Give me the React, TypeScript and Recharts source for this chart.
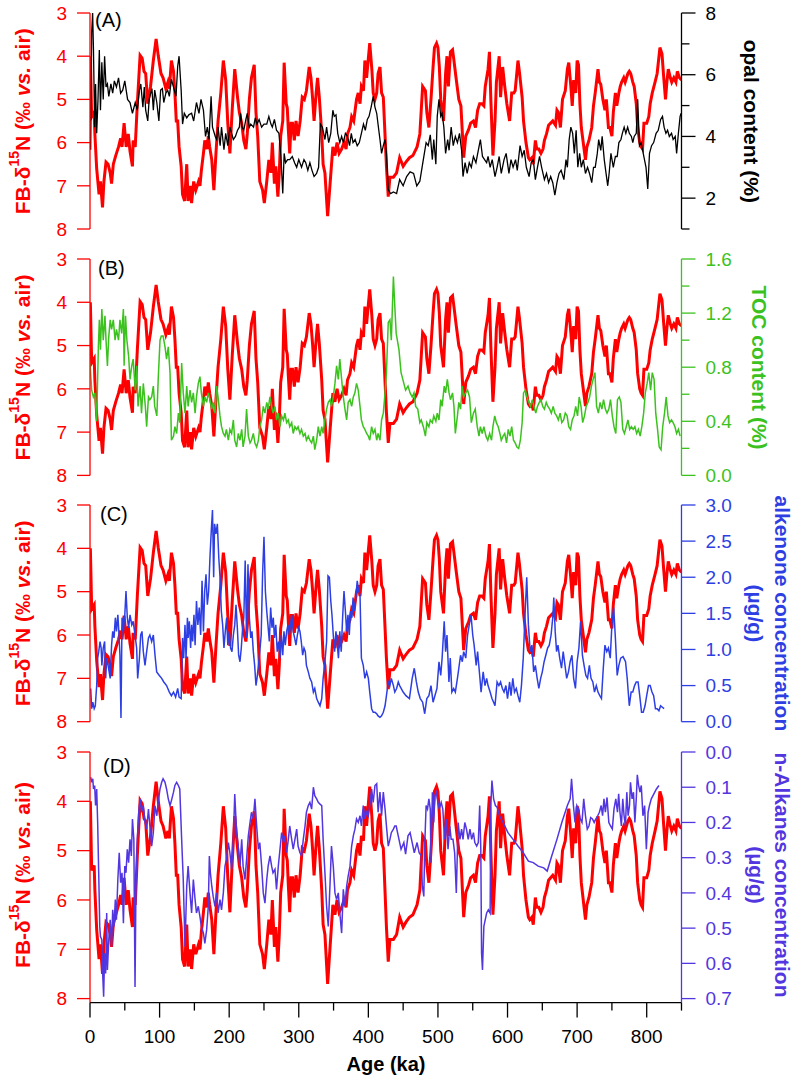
import React from "react";
import { LineChart, Line, XAxis, YAxis } from "recharts";

const FONT = '"Liberation Sans", Arial, Helvetica, sans-serif';
const RED = "#FF0000";
const BLACK = "#000000";
const GREEN = "#3CC21F";
const BLUE = "#2D3FE3";
const VIOLET = "#5236E0";

// FB-d15N (same record in every panel)
const D15N_AGE = [0.5, 2.4, 6, 7, 9.6, 13, 15, 18, 20, 23, 26, 29, 31, 33.5, 37, 41, 44, 46, 49, 52, 55, 57.5, 61, 62, 65, 68, 72, 75, 77.6, 80, 83, 87, 91, 95, 98, 102, 105, 109, 112, 114, 117, 120, 122, 124, 126, 128, 131, 133, 136, 139, 141, 144, 146, 149, 152, 156, 158, 160, 163, 165, 168, 170, 172, 175, 178, 181, 184, 188, 191.6, 195, 198, 201, 204.5, 208, 212, 214.6, 218, 221, 224, 226, 229, 232, 236, 238.5, 241, 244, 248, 250.5, 254, 257, 260, 262, 265, 267, 270, 272, 274, 277, 279, 282, 283.5, 285, 287, 289, 291, 293.6, 296, 299, 302, 305, 308, 311, 315, 317.5, 320, 322, 325, 327, 329.5, 333, 335, 337.6, 341.5, 345, 349, 352, 355, 358, 361.6, 365, 368, 370, 373.6, 376, 379, 383, 385.5, 388, 390, 393, 395, 397.5, 400, 402, 405, 407, 409.5, 412, 414, 416.7, 419, 421.5, 426, 428.6, 431, 436, 440.6, 445, 450, 454, 459, 464, 470, 474, 478, 482, 484, 487, 490, 493, 495, 498, 500, 502, 504, 508, 511, 513, 515, 518, 521, 523, 526, 530, 533, 537, 540, 544, 547, 551, 554, 557, 560, 563, 566, 568, 572, 574, 576, 579, 582, 584, 588, 590, 593, 596, 599, 603, 606, 609, 611, 615, 617, 621, 623, 626.5, 630, 632, 635, 637, 640, 642, 645, 648, 651, 653, 656, 659, 662, 665, 669, 671, 673, 676, 679, 683, 686, 688, 691, 693, 695, 698, 700, 702, 704, 706, 710, 712, 714, 717, 719, 721, 723.5, 726, 730, 732, 734, 737, 740, 742, 745, 747, 750, 752, 755, 757, 760, 762, 764, 767, 769, 770, 773, 775, 777, 780, 782, 785, 787, 790, 792, 794, 796, 800, 803, 805, 808, 812, 815, 817, 819, 822, 824, 827, 829, 831, 834, 836, 839, 842, 844, 847, 850];
const D15N = [4.0, 5.4, 5.3, 5.8, 6.6, 7.2, 6.9, 7.5, 6.9, 6.45, 6.5, 6.7, 6.95, 6.5, 6.3, 6.1, 5.9, 6.1, 5.55, 6.1, 5.8, 6.2, 6.55, 5.95, 6.1, 5.1, 3.98, 4.05, 4.35, 4.4, 5.1, 4.7, 4.1, 3.6, 3.98, 4.4, 4.5, 4.75, 4.6, 4.75, 4.1, 4.35, 4.85, 5.5, 5.5, 6.1, 6.55, 7.2, 7.35, 6.5, 7.35, 7.0, 7.4, 6.9, 7.1, 6.9, 7.0, 6.65, 6.25, 5.95, 6.15, 5.85, 6.1, 6.4, 7.1, 6.25, 5.5, 4.85, 4.1, 4.55, 5.55, 6.25, 5.2, 4.3, 4.95, 5.3, 5.55, 5.95, 6.15, 5.8, 5.0, 4.5, 4.2, 5.3, 5.85, 6.9, 7.1, 7.4, 6.9, 6.4, 6.7, 6.0, 6.95, 6.55, 7.25, 6.7, 5.85, 5.5, 4.15, 5.1, 5.2, 5.7, 6.25, 5.55, 5.55, 5.95, 5.5, 5.85, 5.5, 4.95, 5.0, 4.8, 4.25, 4.5, 5.0, 5.5, 4.85, 4.5, 4.95, 5.8, 6.5, 6.7, 7.7, 6.95, 6.1, 6.3, 6.0, 6.25, 6.15, 6.0, 6.15, 5.8, 5.65, 5.4, 5.5, 5.0, 4.85, 5.1, 4.7, 4.8, 4.1, 4.5, 4.05, 3.7, 4.3, 4.85, 5.0, 4.85, 4.4, 4.25, 4.85, 4.95, 6.55, 7.25, 6.8, 6.8, 6.7, 6.35, 6.55, 6.45, 6.35, 6.3, 6.1, 5.8, 4.7, 4.8, 5.3, 5.65, 5.0, 4.25, 3.8, 3.7, 3.8, 4.25, 5.0, 5.5, 4.4, 4.0, 4.7, 3.9, 3.85, 4.1, 4.5, 5.0, 5.15, 6.35, 5.85, 5.7, 5.55, 5.5, 5.65, 5.25, 5.1, 5.1, 5.15, 4.7, 4.3, 3.9, 5.0, 6.3, 5.5, 4.6, 4.0, 4.95, 4.25, 4.7, 5.1, 5.5, 4.85, 4.85, 4.8, 4.1, 4.35, 4.95, 5.5, 6.0, 6.35, 6.4, 6.35, 6.5, 5.95, 6.15, 6.15, 6.25, 6.15, 5.95, 5.8, 5.6, 5.55, 5.5, 5.6, 5.25, 5.3, 5.65, 5.0, 4.8, 4.3, 4.15, 4.7, 5.15, 4.55, 4.85, 4.1, 4.2, 5.1, 5.65, 6.15, 6.4, 6.1, 5.95, 5.8, 5.65, 5.15, 4.85, 4.3, 4.6, 4.65, 5.0, 5.25, 5.0, 5.65, 5.65, 5.85, 5.3, 4.85, 5.15, 4.85, 4.7, 4.6, 4.5, 4.6, 4.55, 4.4, 4.35, 4.4, 4.6, 4.7, 5.1, 5.65, 6.0, 6.1, 6.15, 5.55, 5.55, 5.4, 5.1, 4.85, 4.6, 4.4, 4.1, 3.8, 3.95, 4.4, 5.0, 4.6, 4.3, 4.5, 4.6, 4.5, 4.6, 4.35, 4.5, 4.55];

// (A) opal content, %
const OPAL_AGE = [1, 2.4, 3.8, 5, 6.7, 8, 9.6, 11.5, 13.4, 15, 17, 19, 21, 23, 25, 27, 30, 32.6, 35, 38, 41, 44, 47, 50, 54, 57.5, 61, 65, 68, 71, 73, 76, 78, 80, 83, 85, 89, 91, 93, 96, 99, 101.5, 104, 106, 109, 111.6, 114, 117, 120, 123.6, 126, 128, 131, 133, 135.5, 139, 142, 146, 149, 153, 156.6, 159.5, 163, 166, 168.6, 171, 174, 176, 180, 182, 184, 187, 189, 192.5, 195, 198, 201, 203.5, 206, 209, 212, 214.6, 216.5, 218.5, 221, 224, 226, 229, 231, 235, 237.5, 240, 243, 246.6, 250, 254, 257, 260, 262, 265, 268, 271.5, 274.4, 277, 279, 281, 284, 287, 290.7, 294, 297, 300, 304, 307.5, 310, 313, 316, 319, 322, 325.6, 328.5, 331, 334, 337.6, 340, 343, 346, 349, 351, 353.5, 356, 359, 361.6, 364, 367, 370, 373, 375.5, 378, 381, 384, 387, 390, 393, 395.6, 398.5, 401, 404, 407, 409.5, 412, 415, 416.7, 419, 421.5, 424, 426, 428.6, 432, 436, 440.6, 445, 450, 455, 460, 465, 469.6, 474, 479, 483, 486, 489, 492, 494, 497, 499, 501.5, 504, 506, 508.5, 511, 514, 516, 519, 522, 525, 528, 531, 534, 536, 539, 542, 545, 548, 551, 554.6, 558, 561, 564, 567, 570, 572, 575, 578, 582, 585, 588, 591, 595, 598, 602, 605, 608, 611.5, 614, 618, 621, 624, 627, 631, 634, 637, 640, 643, 646, 649, 653, 656, 659, 662, 665, 668, 671, 674, 677, 681, 684, 686, 688.6, 691, 693.6, 696, 698.6, 701, 703.6, 706, 709, 712, 715, 717.8, 721, 723.6, 726, 729, 731, 734, 736, 739, 741, 744, 746, 748.6, 752, 755, 757.6, 760, 763, 765, 767.6, 770, 772.6, 775, 778, 780, 782, 785, 787, 789.6, 792, 795, 799, 801.5, 804, 807, 810, 813.5, 816.6, 820, 822.7, 825, 827.6, 830, 832.5, 835.7, 838, 841, 843, 845.5, 848, 849.5];
const OPAL = [3.57, 7.35, 8.0, 6.8, 4.3, 5.7, 4.1, 5.2, 6.8, 4.85, 6.4, 5.2, 6.6, 5.6, 5.7, 5.3, 5.7, 5.4, 5.8, 5.6, 5.9, 5.4, 5.5, 5.8, 5.2, 5.1, 4.75, 5.1, 4.85, 5.5, 5.7, 4.95, 5.6, 4.85, 4.5, 5.2, 5.55, 4.85, 5.5, 5.1, 4.5, 5.5, 5.55, 5.1, 5.4, 5.5, 5.3, 5.85, 5.6, 5.3, 6.27, 6.6, 5.5, 4.4, 4.75, 4.6, 4.7, 4.75, 4.5, 5.1, 4.75, 5.2, 4.85, 4.0, 4.3, 3.9, 5.3, 4.3, 4.0, 3.9, 4.3, 3.7, 4.3, 3.57, 4.1, 3.7, 4.3, 4.1, 3.9, 4.0, 4.2, 4.3, 4.75, 4.3, 4.2, 4.55, 4.75, 4.3, 4.4, 4.3, 4.6, 4.4, 4.55, 4.3, 4.4, 4.4, 4.65, 4.4, 4.3, 4.55, 4.2, 4.1, 3.35, 2.15, 3.45, 3.15, 3.25, 3.25, 3.35, 3.15, 3.0, 3.25, 3.0, 3.25, 3.15, 2.9, 3.15, 2.9, 2.7, 2.8, 3.0, 4.4, 4.3, 3.9, 4.3, 3.8, 4.1, 4.85, 4.65, 4.7, 4.1, 3.8, 4.0, 3.8, 4.1, 4.0, 3.7, 4.1, 3.8, 3.9, 3.7, 3.8, 4.1, 4.4, 4.2, 4.55, 4.65, 4.95, 5.3, 4.95, 4.75, 4.2, 3.9, 3.45, 3.7, 3.9, 3.45, 2.27, 2.15, 2.2, 2.15, 2.6, 2.4, 2.7, 2.85, 2.8, 2.4, 2.55, 3.25, 3.8, 3.7, 4.05, 3.25, 3.9, 3.1, 4.65, 5.2, 4.65, 4.75, 4.3, 3.45, 3.9, 3.55, 4.3, 3.7, 4.0, 3.8, 4.1, 3.55, 2.7, 3.15, 2.8, 3.15, 3.0, 3.35, 3.15, 3.55, 3.9, 3.35, 3.25, 3.15, 3.35, 3.0, 3.25, 2.7, 3.0, 3.35, 2.8, 3.25, 3.45, 2.8, 3.25, 3.0, 3.25, 2.9, 3.7, 3.35, 3.55, 3.0, 2.7, 3.15, 3.25, 2.6, 3.0, 3.35, 3.0, 2.6, 2.8, 2.5, 2.7, 2.5, 2.1, 2.5, 2.8, 2.9, 2.6, 3.25, 3.0, 3.9, 4.3, 4.1, 3.45, 4.2, 3.0, 3.45, 3.0, 3.25, 2.8, 3.0, 2.8, 2.5, 3.0, 3.0, 3.45, 3.9, 3.55, 4.0, 3.25, 2.9, 2.4, 2.8, 3.45, 3.0, 3.35, 3.35, 3.8, 3.9, 4.1, 4.3, 4.1, 4.3, 4.1, 4.0, 3.8, 4.0, 4.1, 5.2, 3.7, 3.8, 3.45, 3.0, 2.3, 3.45, 3.7, 3.8, 4.1, 4.2, 4.55, 4.65, 4.3, 4.1, 4.2, 4.0, 4.1, 3.9, 4.0, 3.45, 4.1, 4.65, 4.75];

// (B) total organic carbon, %
const TOC_AGE = [0, 2.4, 4.8, 7, 9.6, 12, 13.4, 15, 17, 19, 21.5, 23, 25, 27, 29, 31, 33.5, 36, 38, 41, 43, 45.5, 48, 49, 51, 53, 55.5, 57.5, 60, 62, 65, 67, 69, 72, 74, 76.6, 79.5, 81.4, 84, 86, 88.6, 91, 93, 96, 98, 100.6, 102.5, 105, 107.8, 110, 112.5, 115, 117, 120, 122, 124.5, 127, 129, 131.7, 134, 136.5, 139, 141, 143.7, 146, 148.5, 151, 153, 155.6, 158, 160, 163, 165, 167.6, 170, 172.4, 175, 177, 179.6, 182, 184, 186.8, 189, 191.6, 194, 196, 198.8, 201, 203.5, 206, 208, 210.7, 213, 215.5, 218, 220, 222.7, 225, 227.5, 230, 232, 234.7, 237, 239.5, 242, 244, 246.6, 249, 251.4, 254, 256, 258.6, 261, 263, 265.8, 268, 270.6, 273, 275.4, 278, 280, 282.6, 285, 287, 289.8, 292, 294.5, 297, 299, 301.7, 304, 306.5, 309, 311, 313.7, 316, 318.5, 321, 323, 325.7, 328, 330.5, 333, 335, 337.6, 340, 342.4, 345, 347, 349.6, 352, 354.4, 356.8, 359, 361.6, 364, 366.4, 368.8, 371, 373.6, 376, 378.4, 380.7, 383, 385.5, 388, 390, 392.7, 395, 397.5, 400, 402, 404.7, 407, 409.5, 412, 414, 416.7, 419, 421.5, 424, 426, 428.6, 431, 433, 436, 438, 440, 444, 447, 451, 453.5, 457, 460, 463, 465.6, 468, 471, 474, 476, 479, 482, 484, 487, 489, 492, 494, 497, 499, 501.5, 504, 506, 509, 511, 513.5, 516, 518, 521, 523, 525, 528, 530, 532.5, 535, 537, 539.7, 542.6, 545.4, 548, 551, 553.6, 556.5, 559, 561, 563.6, 566, 569, 571.6, 574.3, 577, 579, 581.6, 584, 586.6, 589, 591, 593.6, 596, 598.6, 601, 603.6, 606, 608.6, 611, 613.5, 616, 618.5, 621, 623, 625.6, 628, 630.6, 633, 635.6, 638, 640.6, 643, 645.6, 648, 650.6, 653, 655.6, 658, 660.6, 663, 665.6, 668, 670.6, 673, 675.6, 678, 680.6, 683, 685.6, 688, 690.6, 693, 695.6, 698, 700.6, 703, 705.6, 708, 710.6, 713, 715.6, 718, 720.6, 723, 725.6, 728, 730.6, 733, 735.6, 738, 740.6, 743, 745.6, 748, 750.6, 753, 755.6, 758, 760.6, 763, 765.6, 768, 770.6, 773, 775.6, 778, 780.6, 783, 785.6, 788, 790.6, 793, 795.6, 798, 800.6, 803, 805.6, 808, 810.6, 813, 815.6, 818, 820.6, 823, 825.6, 828, 830.6, 833, 835.6, 838, 840.6, 843, 845.6, 848];
const TOC = [0.83, 0.63, 0.58, 0.61, 0.4, 0.95, 1.15, 0.93, 1.23, 1.0, 1.18, 1.0, 0.81, 1.03, 1.15, 1.08, 1.15, 1.0, 1.08, 1.0, 1.15, 1.05, 1.23, 0.81, 1.18, 1.0, 0.88, 0.71, 0.81, 0.86, 0.63, 0.81, 0.51, 0.66, 0.46, 0.68, 0.51, 0.36, 0.58, 0.56, 0.58, 0.66, 0.51, 0.44, 0.71, 1.0, 1.03, 1.03, 0.95, 0.86, 0.95, 0.76, 0.26, 0.29, 0.36, 0.31, 0.46, 0.39, 0.83, 0.61, 0.46, 0.66, 0.51, 0.63, 0.54, 0.61, 0.46, 0.58, 0.68, 0.73, 0.61, 0.51, 0.58, 0.54, 0.61, 0.56, 0.49, 0.54, 0.46, 0.66, 0.58, 0.44, 0.36, 0.31, 0.29, 0.34, 0.26, 0.34, 0.31, 0.41, 0.26, 0.21, 0.31, 0.26, 0.34, 0.21, 0.29, 0.49, 0.29, 0.24, 0.26, 0.31, 0.24, 0.21, 0.26, 0.36, 0.41, 0.51, 0.46, 0.54, 0.49, 0.58, 0.51, 0.46, 0.51, 0.41, 0.46, 0.36, 0.44, 0.41, 0.46, 0.39, 0.41, 0.36, 0.39, 0.31, 0.36, 0.34, 0.36, 0.31, 0.34, 0.29, 0.31, 0.26, 0.29, 0.26, 0.24, 0.29, 0.19, 0.26, 0.36, 0.29, 0.36, 0.31, 0.41, 0.49, 0.54, 0.56, 0.51, 0.58, 0.68, 0.81, 0.71, 0.86, 0.71, 0.58, 0.49, 0.41, 0.54, 0.56, 0.51, 0.58, 0.61, 0.68, 0.63, 0.51, 0.41, 0.36, 0.34, 0.31, 0.29, 0.26, 0.36, 0.31, 0.34, 0.26, 0.31, 0.26, 0.41, 0.46, 0.61, 0.76, 1.13, 1.15, 1.0, 1.47, 1.25, 1.05, 0.93, 0.76, 0.68, 0.63, 0.66, 0.61, 0.58, 0.61, 0.51, 0.49, 0.39, 0.41, 0.36, 0.29, 0.39, 0.36, 0.41, 0.39, 0.44, 0.4, 0.46, 0.41, 0.56, 0.51, 0.66, 0.61, 0.71, 0.61, 0.56, 0.61, 0.51, 0.31, 0.44, 0.54, 0.49, 0.66, 0.58, 0.61, 0.63, 0.58, 0.39, 0.46, 0.49, 0.36, 0.29, 0.36, 0.31, 0.36, 0.29, 0.26, 0.31, 0.26, 0.36, 0.44, 0.39, 0.36, 0.31, 0.26, 0.29, 0.31, 0.24, 0.34, 0.29, 0.36, 0.26, 0.24, 0.21, 0.2, 0.26, 0.39, 0.61, 0.63, 0.58, 0.54, 0.51, 0.56, 0.51, 0.46, 0.51, 0.54, 0.56, 0.51, 0.49, 0.54, 0.51, 0.49, 0.46, 0.51, 0.46, 0.44, 0.41, 0.46, 0.39, 0.41, 0.46, 0.44, 0.36, 0.34, 0.41, 0.44, 0.51, 0.44, 0.58, 0.51, 0.39, 0.44, 0.51, 0.54, 0.58, 0.66, 0.71, 0.76, 0.51, 0.46, 0.54, 0.49, 0.56, 0.49, 0.46, 0.49, 0.56, 0.44, 0.36, 0.31, 0.56, 0.58, 0.54, 0.34, 0.31, 0.36, 0.41, 0.34, 0.36, 0.34, 0.36, 0.31, 0.34, 0.29, 0.36, 0.46, 0.61, 0.68, 0.76, 0.63, 0.76, 0.71, 0.46, 0.34, 0.21, 0.19, 0.36, 0.46, 0.58, 0.44, 0.39, 0.41, 0.39, 0.36, 0.31, 0.34, 0.29];

// (C) alkenone concentration, ug/g
const ALK_AGE = [1, 2.4, 4, 6, 7.6, 9.6, 11, 12.5, 14.4, 16, 17, 19, 21, 22.5, 24, 26, 29, 31, 32.6, 34.5, 36.4, 38, 40, 41.7, 43, 44.5, 46, 48, 50, 51.7, 53.6, 55.5, 57.5, 60, 62, 64.7, 67, 68.5, 71, 72.8, 74.7, 76.6, 79, 81.4, 84, 86, 88.6, 91, 93.4, 95.8, 99.6, 103, 106, 110, 114, 117, 120, 123, 126, 128, 131, 133, 134.6, 136.5, 138, 140, 141, 142.7, 144.6, 146, 147.5, 149.4, 151, 153, 155, 157, 159, 161, 163, 164.8, 166.7, 168.6, 170.5, 172.4, 174.3, 176, 177.7, 179, 181, 183, 185, 186.8, 188.7, 190.6, 192.5, 194.4, 196.4, 198, 200, 202, 204, 206, 208, 209.8, 211.7, 213.6, 215.5, 217.4, 219, 221, 223, 225, 227, 229, 231, 232.8, 234.7, 236.6, 238.5, 240, 242, 244, 246, 248, 250, 252, 254, 255.7, 257.7, 259.6, 261.5, 263.4, 265, 267, 269, 271, 273, 275, 277, 278.7, 280.6, 282.6, 284.5, 286.4, 288, 290, 292, 294, 296, 298, 300, 301.7, 303.6, 305.6, 307.5, 309.4, 311, 313.7, 316, 318.5, 321, 323, 325.7, 328, 330.5, 333, 335, 337.6, 340, 342, 344, 346, 347.7, 349.6, 351.5, 353.4, 355, 357, 359, 361, 363, 365, 367, 368.8, 370.7, 372.6, 374.5, 376.4, 378, 380, 382, 384, 386, 388, 390, 392.7, 395, 397.5, 400, 402, 404.7, 407, 409.5, 412, 414, 416.7, 419, 421.5, 424, 426, 428.6, 431, 433, 436, 438, 440.6, 443, 445, 450, 454, 459, 463, 466, 469, 471.7, 474.6, 478, 481, 484, 487, 490, 493, 495.6, 498.6, 501.5, 504, 506, 509, 511, 513, 515.8, 517.7, 520, 522.6, 525, 528, 530, 532.5, 535, 537, 540, 542.6, 545, 547.5, 550, 552, 555, 557, 560, 562, 565, 567.6, 570, 572, 575, 577.6, 580, 582, 585, 587.6, 590, 592.6, 595, 597.7, 600, 603, 605, 607.6, 610, 612.6, 615, 617.6, 620, 622.6, 625, 627.6, 630, 632.6, 635, 637.6, 640, 642.6, 645, 647.6, 650, 652.6, 655, 657.6, 660, 662.6, 665, 666.5, 668.5, 670.5, 672.5, 675, 677.6, 680, 682.6, 685, 687.6, 690, 692.6, 695, 697.6, 700, 702.6, 705, 707.6, 710, 712.6, 715, 717.6, 720, 722.6, 725, 727.6, 730, 732.6, 735, 737.6, 740, 742.6, 745, 747.6, 750, 752.6, 755, 757.6, 760, 762.6, 766, 769.6, 772, 775, 777.6, 780, 782.6, 785, 787.6, 790, 792.6, 795, 797.6, 800, 802.6, 805, 807.6, 810, 812.6, 815, 817.6, 820, 822.6, 825];
const ALK = [0.46, 0.18, 0.27, 0.18, 0.22, 0.5, 0.88, 0.97, 1.11, 1.02, 0.78, 1.02, 1.11, 0.6, 0.88, 0.78, 0.6, 1.06, 1.25, 1.16, 1.44, 1.25, 1.48, 1.2, 0.92, 0.05, 1.44, 1.25, 1.48, 1.81, 1.44, 1.3, 1.48, 1.34, 1.39, 1.2, 1.02, 0.6, 0.88, 1.2, 1.25, 0.97, 0.78, 0.97, 1.16, 1.2, 1.11, 1.2, 0.92, 0.69, 0.64, 0.6, 0.55, 0.5, 0.41, 0.36, 0.41, 0.34, 0.46, 0.34, 0.32, 1.16, 0.88, 1.34, 0.88, 1.44, 1.16, 1.39, 1.02, 1.34, 1.11, 1.48, 1.06, 1.67, 1.34, 1.58, 1.2, 1.95, 1.25, 1.81, 2.04, 1.62, 1.81, 2.28, 2.65, 2.93, 2.0, 2.74, 2.6, 2.74, 2.28, 2.0, 1.53, 1.34, 1.02, 1.25, 1.44, 1.06, 1.25, 1.02, 0.97, 1.2, 1.34, 1.62, 1.3, 0.92, 0.83, 1.02, 1.25, 1.44, 2.23, 1.16, 2.18, 1.44, 1.16, 1.25, 0.97, 0.78, 0.5, 0.6, 0.78, 0.97, 1.2, 2.04, 2.56, 1.81, 1.53, 1.34, 1.11, 1.58, 1.3, 1.44, 1.16, 1.34, 0.97, 1.11, 0.88, 1.2, 0.92, 1.25, 1.06, 1.25, 1.34, 1.2, 1.34, 1.48, 1.25, 1.16, 1.06, 1.2, 1.3, 1.25, 1.11, 0.92, 1.02, 0.97, 0.78, 0.69, 0.6, 0.55, 0.41, 0.46, 0.32, 0.27, 0.22, 0.32, 0.6, 0.83, 1.11, 2.02, 2.0, 1.67, 1.48, 1.2, 0.97, 1.25, 1.11, 0.88, 1.25, 0.97, 1.44, 1.81, 1.53, 1.25, 1.48, 1.2, 1.53, 1.44, 1.72, 1.53, 1.72, 1.95, 1.81, 1.76, 0.88, 0.78, 0.6, 0.69, 0.6, 0.41, 0.18, 0.13, 0.13, 0.11, 0.08, 0.06, 0.08, 0.13, 0.22, 0.36, 0.55, 0.5, 0.6, 0.5, 0.41, 0.46, 0.55, 0.5, 0.41, 0.36, 0.32, 0.6, 0.74, 0.55, 0.41, 0.32, 0.27, 0.11, 0.32, 0.36, 0.5, 0.27, 0.36, 0.46, 0.83, 0.64, 0.88, 1.39, 0.97, 1.2, 0.55, 0.88, 0.41, 0.46, 0.41, 0.6, 0.74, 0.92, 0.83, 0.97, 0.88, 1.2, 1.34, 1.48, 1.2, 1.06, 0.78, 0.97, 0.64, 0.41, 0.69, 0.5, 0.6, 0.5, 0.41, 0.32, 0.27, 0.22, 0.55, 0.5, 0.55, 0.46, 0.41, 0.5, 0.32, 0.55, 0.36, 0.6, 0.41, 0.46, 0.36, 0.27, 0.5, 0.88, 1.44, 2.0, 1.34, 0.97, 1.06, 0.69, 0.78, 0.6, 0.46, 0.6, 0.69, 0.83, 0.92, 1.02, 1.06, 1.2, 1.44, 1.72, 1.25, 0.97, 1.06, 0.88, 0.74, 0.97, 0.78, 0.6, 0.69, 0.83, 0.92, 0.6, 0.46, 0.83, 1.02, 1.39, 0.92, 0.78, 0.64, 0.6, 0.78, 0.6, 0.55, 0.41, 0.5, 0.41, 0.36, 0.32, 0.74, 1.06, 0.97, 1.02, 0.88, 1.34, 1.58, 1.16, 0.64, 0.78, 0.88, 0.9, 0.83, 0.6, 0.22, 0.41, 0.41, 0.5, 0.55, 0.55, 0.36, 0.13, 0.13, 0.22, 0.36, 0.5, 0.5, 0.41, 0.36, 0.18, 0.18, 0.15, 0.22, 0.2, 0.18];

// (D) n-alkanes concentration, ug/g (reversed axis)
const NALK_AGE = [1, 2.4, 4, 5, 6.7, 8, 9.6, 11, 12.5, 14, 15, 17, 18, 19.6, 21, 22.5, 24, 25, 27, 29, 31, 32.6, 34.5, 36.4, 38, 40, 42, 44, 46, 48, 50, 51.7, 53.6, 55.5, 57.5, 59.4, 61, 63, 64.7, 66, 68, 70, 72, 74, 76.6, 79, 81.4, 84, 86, 88.6, 91, 93.4, 96, 98, 100.6, 103, 105, 107.8, 110, 112.5, 115, 117, 120, 122, 124.5, 127, 129, 131.7, 134, 136.5, 139, 141, 143.7, 146, 148.5, 151, 153, 155.6, 158, 160, 163, 165, 167.6, 170, 171.5, 173, 175, 177, 179.6, 182, 184, 186.8, 189, 191.6, 194, 196, 198.8, 201, 203.5, 206, 208, 210.7, 213, 215.5, 218, 220, 222.7, 225, 227.5, 230, 232, 234.7, 237, 239.5, 242, 244, 246.6, 249, 251.4, 254, 256, 258.6, 261, 263, 265.8, 268, 270.6, 273, 275.4, 278, 280, 282.6, 285, 287, 289.8, 292, 294.5, 297, 299, 301.7, 304, 306.5, 309, 311, 313.7, 316, 318.5, 321, 323, 325.7, 328, 330.5, 333, 335, 337.6, 340, 342.4, 345, 347, 349.6, 352, 354.4, 356.8, 359, 361.6, 364, 366.4, 368.8, 371, 373.6, 376, 378.4, 380.7, 383, 385.5, 388, 390, 392.7, 395, 397.5, 400, 402, 404.7, 407, 409.5, 412, 414, 416.7, 419, 421.5, 424, 426, 428.6, 431, 433, 436, 438, 440, 444, 447, 451, 453.5, 457, 460, 463, 466, 470, 473, 476, 477.6, 479.7, 481, 483, 485, 487, 489, 490, 492, 494, 495.6, 497.5, 500, 502, 504.7, 507, 509.5, 512, 514.5, 517, 519, 521.6, 524, 526.4, 529, 531.6, 534, 536, 538.6, 541, 543.5, 546, 548.5, 551, 553, 555.7, 558, 560, 561.6, 562.7, 564, 566, 568, 570, 572.5, 575, 576, 577.6, 580, 582.6, 585, 588.5, 593.6, 600.6, 608, 615, 622.6, 630, 637, 644, 652, 657, 663.5, 671, 678, 686, 690, 692, 694.7, 697, 699.6, 702, 704.5, 707, 709.5, 712, 714.6, 717, 719.5, 722, 724.5, 727, 729.6, 732, 734.6, 736.6, 738.6, 740.6, 743, 745.6, 748, 750.6, 753, 755.6, 758, 759.7, 761.6, 763.6, 765.6, 767.5, 769.4, 771.4, 773.3, 775.3, 776.7, 779, 781, 783, 785, 786.5, 788.4, 790.3, 792.2, 794.6, 797, 799.5, 802, 804, 806.6, 809, 811.6, 814, 817.6];
const NALK = [0.071, 0.086, 0.076, 0.105, 0.095, 0.152, 0.105, 0.2, 0.343, 0.495, 0.524, 0.533, 0.619, 0.695, 0.571, 0.629, 0.457, 0.619, 0.533, 0.476, 0.552, 0.448, 0.495, 0.419, 0.476, 0.362, 0.286, 0.371, 0.343, 0.486, 0.324, 0.343, 0.276, 0.314, 0.248, 0.295, 0.19, 0.248, 0.667, 0.39, 0.248, 0.171, 0.133, 0.171, 0.152, 0.2, 0.219, 0.162, 0.21, 0.267, 0.229, 0.152, 0.181, 0.143, 0.105, 0.086, 0.076, 0.086, 0.105, 0.133, 0.152, 0.138, 0.114, 0.095, 0.086, 0.095, 0.105, 0.248, 0.362, 0.552, 0.381, 0.324, 0.4, 0.457, 0.362, 0.419, 0.457, 0.438, 0.467, 0.495, 0.514, 0.543, 0.505, 0.438, 0.295, 0.343, 0.381, 0.41, 0.438, 0.4, 0.457, 0.419, 0.448, 0.4, 0.324, 0.305, 0.257, 0.286, 0.333, 0.248, 0.119, 0.229, 0.267, 0.324, 0.248, 0.324, 0.362, 0.305, 0.238, 0.2, 0.171, 0.19, 0.133, 0.21, 0.276, 0.257, 0.324, 0.4, 0.429, 0.362, 0.324, 0.295, 0.324, 0.343, 0.333, 0.39, 0.324, 0.276, 0.229, 0.257, 0.238, 0.286, 0.248, 0.21, 0.248, 0.276, 0.248, 0.219, 0.267, 0.286, 0.295, 0.248, 0.21, 0.171, 0.152, 0.143, 0.162, 0.1, 0.124, 0.133, 0.143, 0.148, 0.152, 0.248, 0.343, 0.438, 0.495, 0.371, 0.267, 0.324, 0.4, 0.419, 0.4, 0.457, 0.514, 0.39, 0.438, 0.381, 0.352, 0.324, 0.267, 0.238, 0.219, 0.19, 0.2, 0.181, 0.21, 0.152, 0.19, 0.171, 0.181, 0.152, 0.105, 0.143, 0.095, 0.09, 0.171, 0.114, 0.181, 0.114, 0.162, 0.21, 0.267, 0.248, 0.229, 0.219, 0.21, 0.21, 0.248, 0.276, 0.257, 0.29, 0.238, 0.229, 0.257, 0.286, 0.257, 0.286, 0.295, 0.381, 0.41, 0.267, 0.152, 0.162, 0.133, 0.162, 0.314, 0.114, 0.2, 0.124, 0.114, 0.143, 0.162, 0.143, 0.162, 0.248, 0.19, 0.276, 0.21, 0.248, 0.248, 0.286, 0.4, 0.2, 0.248, 0.219, 0.248, 0.2, 0.219, 0.248, 0.219, 0.248, 0.229, 0.257, 0.267, 0.257, 0.152, 0.276, 0.571, 0.619, 0.495, 0.476, 0.457, 0.448, 0.457, 0.152, 0.081, 0.133, 0.152, 0.157, 0.181, 0.2, 0.229, 0.248, 0.267, 0.286, 0.31, 0.314, 0.324, 0.329, 0.338, 0.295, 0.248, 0.2, 0.152, 0.133, 0.076, 0.152, 0.2, 0.152, 0.162, 0.19, 0.2, 0.133, 0.181, 0.219, 0.21, 0.186, 0.19, 0.2, 0.19, 0.181, 0.171, 0.152, 0.181, 0.133, 0.171, 0.129, 0.2, 0.21, 0.219, 0.162, 0.133, 0.171, 0.119, 0.171, 0.21, 0.133, 0.181, 0.21, 0.114, 0.181, 0.152, 0.086, 0.133, 0.114, 0.2, 0.133, 0.065, 0.095, 0.114, 0.095, 0.181, 0.152, 0.276, 0.171, 0.152, 0.133, 0.124, 0.114, 0.105, 0.095];

const AGE_TICKS = [0, 50, 100, 150, 200, 250, 300, 350, 400, 450, 500, 550, 600, 650, 700, 750, 800, 850];
const D15N_TICKS = [3, 4, 5, 6, 7, 8];
const OPAL_TICKS = [1, 2, 3, 4, 5, 6, 7, 8];
const TOC_TICKS = [0, 0.2, 0.4, 0.6, 0.8, 1.0, 1.2, 1.4, 1.6];
const ALK_TICKS = [0, 0.5, 1.0, 1.5, 2.0, 2.5, 3.0];
const NALK_TICKS = [0, 0.1, 0.2, 0.3, 0.4, 0.5, 0.6, 0.7];

const zip = (ages: number[], vals: number[]) => ages.map((age, i) => ({ age, v: vals[i] }));

const W = 793;
const H = 1079;
const PLOT_L = 90;
const PLOT_R = 681.5;
const AXIS_W = 60;
const MT = 10;
const TICK_FS = 19;
const TITLE_FS = 21;

type TickOpts = {
  side: "left" | "right" | "bottom";
  color: string;
  size: number;
  margin: number;
  minorLen?: number;
  isMinor?: (v: number) => boolean;
  fmt: (v: number) => string;
};

// custom tick: draws its own tick line (major or minor) and the label
function makeTick(o: TickOpts) {
  return (p: any) => {
    const v = p.payload.value;
    const minor = o.isMinor ? o.isMinor(v) : false;
    const len = minor ? o.minorLen || 8 : o.size;
    const textStyle = { fontFamily: FONT, fontSize: TICK_FS, fill: o.color };
    if (o.side === "left") {
      const ax = p.x + o.size + o.margin;
      return (
        <g>
          <line x1={ax - len} x2={ax} y1={p.y} y2={p.y} stroke={o.color} strokeWidth={1.3} />
          {!minor && (
            <text x={p.x} y={p.y} dy="0.355em" textAnchor="end" style={textStyle}>
              {o.fmt(v)}
            </text>
          )}
        </g>
      );
    }
    if (o.side === "right") {
      const ax = p.x - o.size - o.margin;
      return (
        <g>
          <line x1={ax} x2={ax + len} y1={p.y} y2={p.y} stroke={o.color} strokeWidth={1.3} />
          {!minor && (
            <text x={p.x} y={p.y} dy="0.355em" textAnchor="start" style={textStyle}>
              {o.fmt(v)}
            </text>
          )}
        </g>
      );
    }
    const ay = p.y - o.size - o.margin;
    return (
      <g>
        <line x1={p.x} x2={p.x} y1={ay} y2={ay + len} stroke={o.color} strokeWidth={1.3} />
        {!minor && (
          <text x={p.x} y={p.y} dy="0.71em" textAnchor="middle" style={textStyle}>
            {o.fmt(v)}
          </text>
        )}
      </g>
    );
  };
}

const leftTick = makeTick({ side: "left", color: RED, size: 13, margin: 10, fmt: (v) => String(v) });

interface PanelProps {
  top: number;
  height: number;
  data: { age: number; v: number }[];
  color: string;
  width: number;
  domain: [number, number];
  leftDomain: [number, number];
  ticks: number[];
  reversed?: boolean;
  isMinor?: (v: number) => boolean;
  fmt: (v: number) => string;
  withXAxis?: boolean;
}

function Panel(props: PanelProps) {
  const { top, height, data, color, width, domain, leftDomain, ticks, reversed, isMinor, fmt, withXAxis } = props;
  const xh = withXAxis ? 74 : 0;
  const mb = withXAxis ? 2 : 10;
  const rightTick = makeTick({ side: "right", color, size: 14, margin: 10, minorLen: 8, isMinor, fmt });
  const bottomTick = makeTick({
    side: "bottom",
    color: BLACK,
    size: 15,
    margin: 12,
    minorLen: 8,
    isMinor: (v) => v % 100 !== 0,
    fmt: (v) => String(v),
  });
  return (
    <div style={{ position: "absolute", left: 0, top: top - MT }}>
      <LineChart
        width={W}
        height={MT + height + xh + mb}
        margin={{ top: MT, right: W - PLOT_R - AXIS_W, bottom: mb, left: PLOT_L - AXIS_W }}
      >
        <XAxis
          xAxisId="age"
          type="number"
          dataKey="age"
          domain={[0, 850]}
          allowDataOverflow
          ticks={AGE_TICKS}
          interval={0}
          hide={!withXAxis}
          height={xh}
          stroke={BLACK}
          axisLine={{ stroke: BLACK, strokeWidth: 1.3 }}
          tickLine={false}
          tickSize={15}
          tickMargin={12}
          tick={bottomTick}
        />
        <YAxis
          yAxisId="left"
          orientation="left"
          width={AXIS_W}
          domain={leftDomain}
          allowDataOverflow
          reversed
          ticks={D15N_TICKS}
          interval={0}
          axisLine={{ stroke: RED, strokeWidth: 1.3 }}
          tickLine={false}
          tickSize={13}
          tickMargin={10}
          tick={leftTick}
        />
        <YAxis
          yAxisId="right"
          orientation="right"
          width={AXIS_W}
          domain={domain}
          allowDataOverflow
          reversed={reversed}
          ticks={ticks}
          interval={0}
          axisLine={{ stroke: color, strokeWidth: 1.3 }}
          tickLine={false}
          tickSize={14}
          tickMargin={10}
          tick={rightTick}
        />
        <Line
          xAxisId="age"
          yAxisId="left"
          data={zip(D15N_AGE, D15N)}
          dataKey="v"
          type="linear"
          stroke={RED}
          strokeWidth={3}
          dot={false}
          isAnimationActive={false}
        />
        <Line
          xAxisId="age"
          yAxisId="right"
          data={data}
          dataKey="v"
          type="linear"
          stroke={color}
          strokeWidth={width}
          dot={false}
          isAnimationActive={false}
        />
      </LineChart>
    </div>
  );
}

const PANELS = [
  { letter: "(A)", top: 13.3, height: 216, lx: 95, ly: 20 },
  { letter: "(B)", top: 259.3, height: 216.4, lx: 98, ly: 268 },
  { letter: "(C)", top: 505, height: 216.7, lx: 100, ly: 514 },
  { letter: "(D)", top: 751.7, height: 246.6, lx: 103, ly: 766 },
];

function LeftTitle({ cy }: { cy: number }) {
  return (
    <text
      transform={`translate(22 ${cy}) rotate(-90)`}
      textAnchor="middle"
      dominantBaseline="central"
      fill={RED}
      fontSize={TITLE_FS}
      fontWeight="bold"
      fontFamily={FONT}
    >
      FB-δ<tspan dy={-8} fontSize={14}>15</tspan>
      <tspan dy={8}>N (‰ </tspan>
      <tspan fontStyle="italic">vs.</tspan>
      <tspan> air)</tspan>
    </text>
  );
}

function RightTitle({ x, cy, text, color }: { x: number; cy: number; text: string; color: string }) {
  return (
    <text
      transform={`translate(${x} ${cy}) rotate(90)`}
      textAnchor="middle"
      dominantBaseline="central"
      fill={color}
      fontSize={TITLE_FS}
      fontWeight="bold"
      fontFamily={FONT}
    >
      {text}
    </text>
  );
}

export default function App() {
  const cA = PANELS[0].top + PANELS[0].height / 2;
  const cB = PANELS[1].top + PANELS[1].height / 2;
  const cC = PANELS[2].top + PANELS[2].height / 2;
  const cD = PANELS[3].top + PANELS[3].height / 2;
  const dExtra = 4;
  return (
    <div style={{ position: "absolute", left: 0, top: 0, width: W, height: H, background: "#fff", overflow: "hidden" }}>
      <Panel
        top={PANELS[0].top}
        height={PANELS[0].height}
        data={zip(OPAL_AGE, OPAL)}
        color={BLACK}
        width={1.3}
        domain={[1, 8]}
        leftDomain={[3, 8]}
        ticks={OPAL_TICKS}
        isMinor={(v) => v % 2 === 1}
        fmt={(v) => String(v)}
      />
      <Panel
        top={PANELS[1].top}
        height={PANELS[1].height}
        data={zip(TOC_AGE, TOC)}
        color={GREEN}
        width={1.5}
        domain={[0, 1.6]}
        leftDomain={[3, 8]}
        ticks={TOC_TICKS}
        isMinor={(v) => Math.round(v * 10) % 4 !== 0}
        fmt={(v) => v.toFixed(1)}
      />
      <Panel
        top={PANELS[2].top}
        height={PANELS[2].height}
        data={zip(ALK_AGE, ALK)}
        color={BLUE}
        width={1.5}
        domain={[0, 3]}
        leftDomain={[3, 8]}
        ticks={ALK_TICKS}
        fmt={(v) => v.toFixed(1)}
      />
      <Panel
        top={PANELS[3].top}
        height={PANELS[3].height + dExtra}
        data={zip(NALK_AGE, NALK)}
        color={VIOLET}
        width={1.5}
        domain={[0, 0.7 * (1 + dExtra / PANELS[3].height)]}
        leftDomain={[3, 3 + 5 * (1 + dExtra / PANELS[3].height)]}
        ticks={NALK_TICKS}
        reversed
        fmt={(v) => v.toFixed(1)}
        withXAxis
      />
      <svg
        width={W}
        height={H}
        style={{ position: "absolute", left: 0, top: 0, pointerEvents: "none" }}
      >
        {PANELS.map((p) => (
          <text key={p.letter} x={p.lx} y={p.ly} dy="0.355em" fontFamily={FONT} fontSize={20} fill={BLACK}>
            {p.letter}
          </text>
        ))}
        <LeftTitle cy={cA} />
        <LeftTitle cy={cB} />
        <LeftTitle cy={cC} />
        <LeftTitle cy={PANELS[3].top + PANELS[3].height / 2} />
        <RightTitle x={751} cy={cA} text="opal content (%)" color={BLACK} />
        <RightTitle x={759} cy={cB} text="TOC content (%)" color={GREEN} />
        <RightTitle x={782} cy={cC} text="alkenone concentration" color={BLUE} />
        <RightTitle x={755} cy={cC} text="(µg/g)" color={BLUE} />
        <RightTitle x={782} cy={cD} text="n-Alkanes concentration" color={VIOLET} />
        <RightTitle x={756} cy={cD} text="(µg/g)" color={VIOLET} />
        <text x={386} y={1071} textAnchor="middle" fontFamily={FONT} fontSize={20} fontWeight="bold" fill={BLACK}>
          Age (ka)
        </text>
      </svg>
    </div>
  );
}
